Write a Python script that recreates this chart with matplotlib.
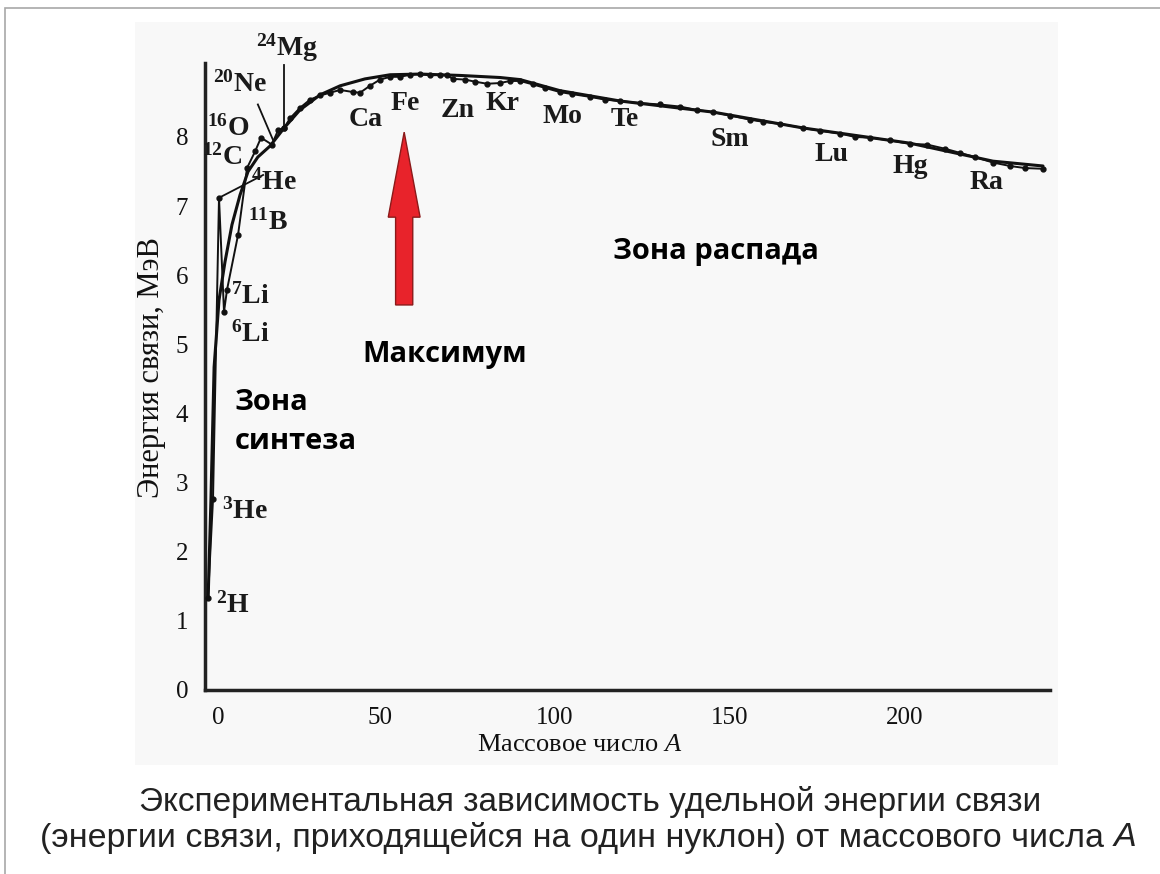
import matplotlib
matplotlib.use("Agg")
import matplotlib.pyplot as plt
import matplotlib.patches as mpatches
import matplotlib.transforms as mtransforms

plt.rcParams['mathtext.fontset'] = 'custom'
plt.rcParams['mathtext.rm'] = 'Liberation Serif:bold'
plt.rcParams['mathtext.it'] = 'Liberation Serif:italic'

# smooth (averaged) curve, A vs E (MeV per nucleon)
curve_a = [0.9, 1.7, 2.6, 4.0, 5.7, 7.7, 10.0, 12.3, 15.1, 18.6, 22.6, 27.1, 32.9, 38.6,
           45.7, 52.9, 61.4, 72.9, 84.3, 90.0, 101.4, 118.6, 145.1, 170.9, 201.4, 225.1, 239.4]
curve_e = [1.33, 2.76, 4.67, 5.64, 6.19, 6.73, 7.16, 7.50, 7.71, 7.87, 8.13, 8.39, 8.61, 8.74,
           8.84, 8.90, 8.91, 8.89, 8.86, 8.83, 8.67, 8.52, 8.36, 8.13, 7.91, 7.65, 7.58]

# light nuclei, connected in order
light_a = [0.86, 2.29, 4.0, 5.43, 6.29, 9.43, 12.0, 14.3, 16.0, 19.1, 20.9, 22.6]
light_e = [1.33, 2.76, 7.12, 5.47, 5.79, 6.58, 7.55, 7.79, 7.99, 7.89, 8.10, 8.13]

# measured points for heavier nuclei
heavy_a = [22.6, 24.3, 27.1, 30.0, 32.9, 35.7, 38.6, 42.3, 44.3, 47.1, 50.0, 52.9, 55.7, 58.6,
           61.4, 64.3, 67.1, 69.1, 70.9, 74.3, 77.1, 80.6, 84.3, 87.1, 90.0, 93.7, 97.1, 101.4,
           104.9, 110.0, 114.3, 118.6, 124.3, 130.0, 135.7, 140.6, 145.1, 150.0, 155.7, 159.4,
           164.3, 170.9, 175.7, 181.4, 185.7, 190.0, 195.7, 201.4, 206.3, 211.4, 215.7, 220.0,
           225.1, 230.0, 234.3, 239.4]
heavy_e = [8.13, 8.27, 8.42, 8.54, 8.60, 8.64, 8.68, 8.65, 8.64, 8.74, 8.83, 8.87, 8.87, 8.90,
           8.91, 8.89, 8.90, 8.89, 8.84, 8.83, 8.80, 8.77, 8.78, 8.81, 8.81, 8.76, 8.71, 8.65,
           8.62, 8.58, 8.54, 8.52, 8.49, 8.47, 8.44, 8.39, 8.36, 8.31, 8.25, 8.22,
           8.19, 8.13, 8.09, 8.05, 8.00, 7.99, 7.95, 7.90, 7.89, 7.83, 7.77, 7.71,
           7.63, 7.58, 7.55, 7.54]

# isotope / element labels
labels = [r'$^{24}\mathrm{Mg}$', r'$^{20}\mathrm{Ne}$', r'$^{16}\mathrm{O}$', r'$^{12}\mathrm{C}$',
          r'$^{4}\mathrm{He}$', r'$^{11}\mathrm{B}$', r'$^{7}\mathrm{Li}$', r'$^{6}\mathrm{Li}$',
          r'$^{3}\mathrm{He}$', r'$^{2}\mathrm{H}$',
          'Ca', 'Fe', 'Zn', 'Kr', 'Mo', 'Te', 'Sm', 'Lu', 'Hg', 'Ra']
label_a = [23.4, 10.0, 6.6, 4.9, 19.7, 18.0, 12.9, 12.9, 11.4, 8.0,
           46.0, 57.1, 72.3, 84.9, 102.0, 120.0, 150.0, 179.1, 201.4, 223.4]
label_e = [9.29, 8.76, 8.13, 7.70, 7.35, 6.77, 5.69, 5.14, 2.58, 1.23,
           8.25, 8.49, 8.39, 8.48, 8.29, 8.25, 7.96, 7.74, 7.57, 7.34]

# leader lines to labels: (a0, a1, e0, e1)
leaders = [(22.6, 22.6, 9.04, 8.13), (15.1, 19.4, 8.47, 7.96), (4.0, 16.6, 7.12, 7.45)]

W, H = 1160, 874
fig = plt.figure(figsize=(W / 100, H / 100), dpi=100)
fig.patch.set_facecolor('white')

# scanned panel background and frame
fig.patches.append(mpatches.Rectangle((135 / W, 1 - 765 / H), (1058 - 135) / W, (765 - 22) / H,
                                      transform=fig.transFigure, fc='#f8f8f8', ec='none', zorder=-10))
fig.patches.append(mpatches.Rectangle((5 / W, -0.01), 1.2, 1 - 8 / H + 0.01,
                                      transform=fig.transFigure, fc='none', ec='#a8a8a8', lw=1.2, zorder=-9))

ax = fig.add_axes([205 / W, 1 - 690 / H, (1050 - 205) / W, (690 - 63) / H])
ax.set_facecolor('none')
ax.set_xlim(0, 241.4)
ax.set_ylim(0, 9.07)

for s in ['top', 'right']:
    ax.spines[s].set_visible(False)
for s in ['left', 'bottom']:
    ax.spines[s].set_linewidth(2.5)
    ax.spines[s].set_color('#222222')

serif = 'Liberation Serif'
ax.set_xticks([0, 50, 100, 150, 200])
ax.set_yticks(range(9))
ax.tick_params(length=0)
ax.tick_params(axis='x', pad=12)
ax.tick_params(axis='y', pad=12)
for t in ax.get_xticklabels() + ax.get_yticklabels():
    t.set_fontfamily(serif)
    t.set_fontsize(18)
    t.set_color('#111111')
zero_lbl = ax.get_xticklabels()[0]
zero_lbl.set_transform(zero_lbl.get_transform() + mtransforms.ScaledTranslation(0.13, 0, fig.dpi_scale_trans))

ax.plot(curve_a, curve_e, color='#111111', lw=2.2, solid_capstyle='round', zorder=3)
ax.plot(light_a, light_e, color='#111111', lw=1.4, marker='o', ms=3.5, zorder=4)
ax.plot(heavy_a, heavy_e, color='#111111', lw=1.4, marker='o', ms=3.5, zorder=4)

for a0, a1, e0, e1 in leaders:
    ax.plot([a0, a1], [e0, e1], color='#111111', lw=1.3, zorder=3, clip_on=False)

for txt, a, e in zip(labels, label_a, label_e):
    ax.text(a, e, txt, fontsize=20, family=serif, fontweight='bold', ha='center', va='center',
            color='#1a1a1a', clip_on=False)

# red arrow to the maximum
ax.add_patch(mpatches.FancyArrow(56.9, 5.57, 0, 2.5, width=4.9, head_width=9.1, head_length=1.23,
                                 length_includes_head=True, fc='#e8232b', ec='#8b1a1a', lw=1, zorder=5))

sans = 'Open Sans'
ax.text(68.6, 4.85, 'Максимум', fontsize=21, family=sans, fontweight='bold', ha='center', va='center')
ax.text(146, 6.34, 'Зона распада', fontsize=21, family=sans, fontweight='bold', ha='center', va='center')
ax.text(8.6, 3.88, 'Зона\nсинтеза', fontsize=21, family=sans, fontweight='bold', ha='left', va='center',
        linespacing=1.45)

fig.text(152 / W, 1 - 368 / H, 'Энергия связи, МэВ', rotation=90, fontsize=22, family=serif,
         ha='center', va='center', color='#111111')
fig.text(580 / W, 1 - 745 / H, r'Массовое число $A$', fontsize=19, family=serif,
         ha='center', va='center', color='#111111')

# caption; the second line ends with an italic A
cap = dict(family='Liberation Sans', va='center', color='#222222')
fig.text(590 / W, 1 - 802 / H, 'Экспериментальная зависимость удельной энергии связи',
         ha='center', fontsize=24, **cap)
line2 = fig.text(40 / W, 1 - 838 / H, '(энергии связи, приходящейся на один нуклон) от массового числа ',
                 ha='left', fontsize=24.5, **cap)
renderer = fig.canvas.get_renderer()
bb = line2.get_window_extent(renderer)
fig.text(bb.x1 / W, 1 - 838 / H, 'A', ha='left', style='italic', fontsize=24.5, **cap)

fig.savefig('out.png', dpi=100, facecolor=fig.get_facecolor())
